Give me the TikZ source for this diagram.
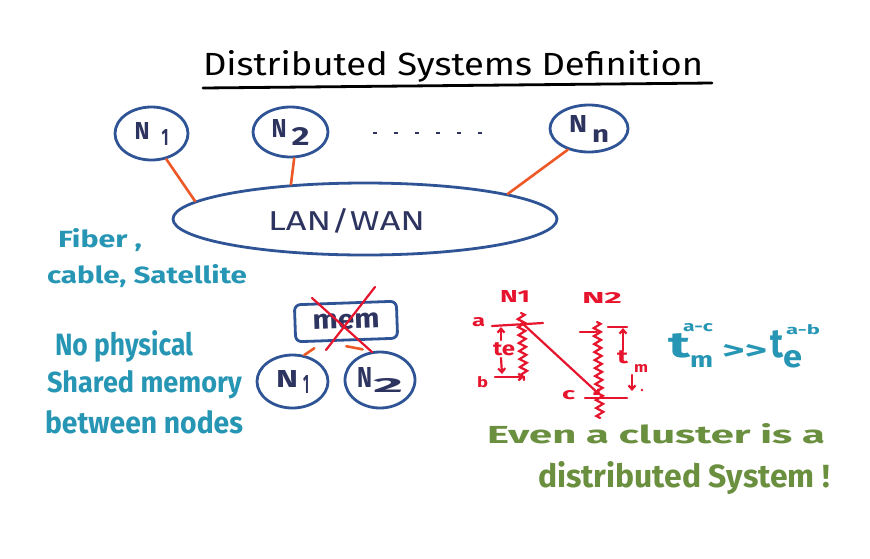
\documentclass[tikz,border=0pt]{standalone}
\usepackage{graphicx}
\usepackage{fontspec}
\setmainfont{Fira Sans}
\usetikzlibrary{shapes.geometric,arrows.meta,decorations.pathmorphing}
\definecolor{nodeblue}{RGB}{47,84,150}
\definecolor{navytxt}{RGB}{46,52,96}
\definecolor{orangeln}{RGB}{236,88,38}
\definecolor{tealtxt}{RGB}{38,150,180}
\definecolor{redsk}{RGB}{230,20,45}
\definecolor{greentxt}{RGB}{106,143,62}
\newcommand{\hw}[3]{\resizebox{#1pt}{#2pt}{#3}}
\tikzset{
  lbl/.style={inner sep=0pt, outer sep=0pt, anchor=base west, font=\bfseries},
  netnode/.style={ellipse, draw=nodeblue, line width=2.8pt, inner sep=0pt, text=navytxt, font=\bfseries},
  wire/.style={draw=orangeln, line width=2.6pt, line cap=round},
  redln/.style={draw=redsk, line width=2.2pt, line cap=round},
  redarr/.style={redln, -{Straight Barb[length=4pt,width=7pt]}},
  wavy/.style={redln, decorate, decoration={zigzag, segment length=8pt, amplitude=3.5pt}},
}
\begin{document}
\begin{tikzpicture}[x=1pt,y=-1pt]
\useasboundingbox (0,0) rectangle (870,558);
\fill[white] (0,0) rectangle (870,558);

% title
\node[lbl, font=\mdseries] (title) at (203,75) {\hw{500}{25}{Distributed Systems Definition}};
\coordinate (ul1) at (203,88);
\coordinate (ul2) at (712,83);
\draw[line width=2.8pt, line cap=round] (ul1) -- (ul2);

% network
\node[netnode, minimum width=73pt, minimum height=53pt] (n1) at (151.5,133.5)
  {\hw{15}{17}{N}\hspace{12pt}\raisebox{-6pt}{\hw{7}{16}{1}}};
\node[netnode, minimum width=75pt, minimum height=50pt] (n2) at (290.5,132)
  {\hw{15}{18}{N}\hspace{5pt}\raisebox{-8pt}{\hw{18}{18}{2}}};
\node[netnode, minimum width=78pt, minimum height=47pt] (nn) at (589,128.5)
  {\hw{18}{17}{N}\hspace{5pt}\raisebox{-10pt}{\hw{17}{13}{n}}};
\node[netnode, minimum width=384pt, minimum height=72pt] (lan) at (365,219) {};
\node[lbl, text=navytxt, font=\mdseries] (lanlbl) at (268,230) {\hw{157}{22}{LAN/WAN}};

\coordinate (dotsL) at (373,133);
\coordinate (dotsR) at (482,133);
\draw[navytxt, line width=2.8pt, dash pattern=on 4pt off 17pt] (dotsL) -- (dotsR);

\draw[wire] (n1.-60) -- (lan.174);
\draw[wire] (n2.-82) -- (lan.155);
\draw[wire] (nn.-135) -- (lan.10);

% teal notes
\node[lbl, text=tealtxt] (fiber) at (58,247) {\hw{84}{19}{Fiber ,}};
\node[lbl, text=tealtxt] (cable) at (47,283) {\hw{200}{19}{cable, Satellite}};
\node[lbl, text=tealtxt] (nophys) at (55,355) {\hw{138}{25}{No physical}};
\node[lbl, text=tealtxt] (shared) at (47,392) {\hw{195}{22}{Shared memory}};
\node[lbl, text=tealtxt] (between) at (45,433) {\hw{198}{23}{between nodes}};

% shared memory sketch
\node[draw=nodeblue, line width=2.8pt, rounded corners=6pt, minimum width=102pt,
      minimum height=37pt, rotate=2, inner sep=0pt, text=navytxt, font=\bfseries] (mem) at (346,321.5)
  {\hw{67}{15}{mem}};
\node[netnode, minimum width=71pt, minimum height=53pt] (bn1) at (292.5,381.5)
  {\hw{22}{17}{N}\hspace{5pt}\raisebox{-6pt}{\hw{6}{18}{1}}};
\node[netnode, minimum width=70pt, minimum height=56pt] (bn2) at (380,380)
  {\hw{15}{20}{N}\hspace{1pt}\raisebox{-5pt}{\hw{30}{14}{2}}};
\draw[wire] ([shift={(20,5)}]mem.south west) -- (bn1.66);
\draw[wire] ([shift={(52,3)}]mem.south west) -- ([shift={(-2,-4)}]bn2.120);
\draw[redln] ([shift={(-34,-23.5)}]mem.center) -- ([shift={(26,30.5)}]mem.center);
\draw[redln] ([shift={(29,-34.5)}]mem.center) -- ([shift={(-20,28.5)}]mem.center);

% red timing sketch
\node[lbl, text=redsk] (rn1) at (500,302) {\hw{30}{12}{N1}};
\node[lbl, text=redsk] (rn2) at (582,303) {\hw{40}{11}{N2}};
\node[lbl, text=redsk] (ra) at (472,326) {\hw{13}{9}{a}};
\node[lbl, text=redsk] (rte) at (493,355) {\hw{22}{13}{te}};
\node[lbl, text=redsk] (rb) at (477,387) {\hw{11}{11}{b}};
\node[lbl, text=redsk] (rc) at (562,399) {\hw{13}{9}{c}};
\node[lbl, text=redsk] (rtm) at (617,363) {\hw{11}{13}{t}\hspace{6pt}\raisebox{-9pt}{\hw{14}{8}{m}}};

\coordinate (aL) at (492,326);
\coordinate (aR) at (543,323);
\coordinate (w1top) at (521,313);
\coordinate (w1bot) at (524,380);
\coordinate (teUpS) at (501,340);
\coordinate (teUpE) at (501,327);
\coordinate (teDnS) at (501,358);
\coordinate (teDnE) at (502,374);
\coordinate (bL) at (495,377);
\coordinate (bR) at (524,377);
\coordinate (msgS) at (522,323);
\coordinate (msgE) at (600,395);
\coordinate (w2tick) at (580,332);
\coordinate (w2top) at (597,322);
\coordinate (w2bot) at (600,418);
\coordinate (cL) at (585,398);
\coordinate (cR) at (627,398);
\coordinate (tmTopL) at (608,327);
\coordinate (tmTopR) at (627,327);
\coordinate (tmUpS) at (623,350);
\coordinate (tmUpE) at (623,328);
\coordinate (tmDnS) at (632,375);
\coordinate (tmDnE) at (632,391);
\coordinate (tmDot) at (642,390);

\draw[redln] (aL) -- (aR);
\draw[wavy] (w1top) -- (w1bot);
\draw[redarr] (teUpS) -- (teUpE);
\draw[redarr] (teDnS) -- (teDnE);
\draw[redarr] (bL) -- (bR);
\draw[redarr] (msgS) -- (msgE);
\draw[redln] (w2tick) -- (w2top |- w2tick);
\draw[wavy] (w2top) -- (w2bot);
\draw[redln] (cL) -- (cR);
\draw[redln] (tmTopL) -- (tmTopR);
\draw[redarr] (tmUpS) -- (tmUpE);
\draw[redarr] (tmDnS) -- (tmDnE);
\fill[redsk] (tmDot) circle (1.3);

% formula
\node[lbl, text=tealtxt] (formula) at (668,357)
  {\hw{22}{24}{t}\hspace{-7pt}\rlap{\raisebox{26pt}{\hw{30}{8}{a-c}}}\hspace{7pt}%
   \raisebox{-10pt}{\hw{23}{12}{m}}\hspace{9pt}\raisebox{-2pt}{\hw{45}{15}{>\kern0pt>}}\hspace{3pt}%
   \hw{13}{27}{t}\rlap{\hspace{3pt}\raisebox{23pt}{\hw{34}{10}{a-b}}}%
   \raisebox{-10pt}{\hw{19}{17}{e}}};

% green note
\node[lbl, text=greentxt] (even) at (487,443) {\hw{338}{20}{Even a cluster is a}};
\node[lbl, text=greentxt] (dist) at (538,487) {\hw{292}{26}{distributed System !}};
\end{tikzpicture}
\end{document}
